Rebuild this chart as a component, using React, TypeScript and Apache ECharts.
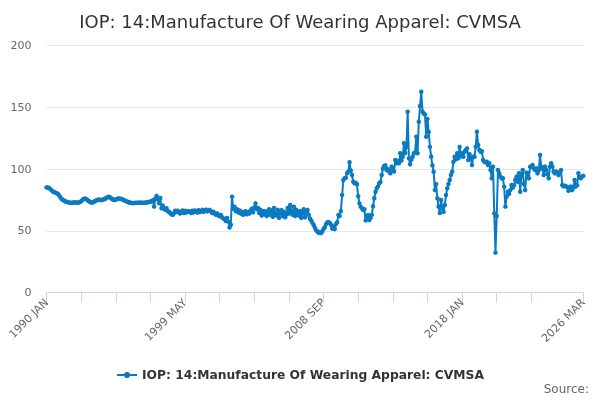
import React, { useEffect, useRef } from "react";
import * as echarts from "echarts";

const TITLE = "IOP: 14:Manufacture Of Wearing Apparel: CVMSA";
const SERIES_NAME = "IOP: 14:Manufacture Of Wearing Apparel: CVMSA";
const MONTHS = ["JAN", "FEB", "MAR", "APR", "MAY", "JUN", "JUL", "AUG", "SEP", "OCT", "NOV", "DEC"];
const START_YEAR = 1990;

const v1990 = [85.2, 85.0, 84.8, 84.0, 83.0, 82.0, 81.5, 81.0, 80.6, 80.0, 79.0, 77.5];
const v1991 = [76.0, 75.2, 74.6, 74.0, 73.6, 73.3, 73.0, 72.8, 72.7, 72.8, 73.0, 73.2];
const v1992 = [73.0, 72.8, 72.9, 73.3, 74.0, 75.0, 75.8, 76.2, 75.8, 75.0, 74.2, 73.5];
const v1993 = [73.0, 73.0, 73.4, 74.0, 74.6, 75.0, 75.3, 75.2, 75.0, 75.1, 75.4, 75.8];
const v1994 = [76.4, 77.0, 77.6, 77.4, 76.6, 75.8, 75.2, 75.0, 75.3, 75.8, 76.2, 76.0];
const v1995 = [76.0, 75.6, 75.2, 74.8, 74.2, 73.8, 73.4, 73.0, 72.8, 72.6, 72.5, 72.6];
const v1996 = [72.7, 72.8, 72.7, 72.8, 72.9, 72.8, 72.7, 72.8, 72.9, 73.0, 73.2, 73.6];
const v1997 = [73.5, 74.0, 74.8, 69.6, 76.0, 78.2, 75.5, 72.3, 76.6, 68.3, 70.5, 68.0];
const v1998 = [67.0, 68.3, 66.0, 65.5, 64.5, 63.4, 63.0, 64.2, 66.3, 65.5, 66.3, 64.8];
const v1999 = [64.0, 65.5, 66.5, 64.5, 66.2, 64.8, 66.0, 65.5, 65.7, 64.5, 66.3, 65.0];
const v2000 = [66.5, 65.5, 64.8, 66.8, 65.3, 66.0, 67.0, 65.5, 66.5, 67.2, 65.8, 66.4];
const v2001 = [67.0, 65.8, 64.5, 65.5, 64.0, 63.0, 64.2, 62.5, 61.8, 62.9, 61.0, 60.0];
const v2002 = [59.5, 58.0, 60.5, 57.5, 52.8, 55.0, 77.7, 68.0, 69.5, 66.0, 67.5, 65.0];
const v2003 = [66.5, 64.0, 65.5, 63.0, 64.8, 66.0, 63.5, 65.2, 64.0, 66.5, 68.0, 65.0];
const v2004 = [69.0, 72.3, 67.5, 68.5, 64.5, 67.0, 62.5, 66.0, 63.5, 65.8, 62.0, 64.5];
const v2005 = [67.5, 63.0, 66.5, 61.5, 68.5, 64.0, 62.5, 67.0, 60.5, 64.5, 66.8, 62.0];
const v2006 = [65.5, 61.0, 63.5, 68.5, 64.0, 71.0, 66.0, 63.0, 69.5, 62.0, 67.0, 64.5];
const v2007 = [62.5, 66.0, 60.5, 64.0, 67.5, 61.0, 65.5, 67.0, 63.0, 60.0, 58.5, 56.5];
const v2008 = [54.8, 52.5, 50.5, 49.5, 48.5, 48.8, 48.2, 49.5, 51.5, 53.0, 55.5, 56.8];
const v2009 = [57.0, 56.5, 55.0, 52.0, 53.5, 51.5, 55.5, 57.0, 62.9, 62.0, 66.0, 79.0];
const v2010 = [91.2, 92.6, 93.0, 96.6, 97.9, 105.5, 99.0, 95.2, 89.8, 88.5, 89.0, 87.7];
const v2011 = [78.0, 72.3, 69.6, 68.3, 67.0, 67.5, 58.5, 61.0, 62.9, 58.8, 60.5, 63.0];
const v2012 = [70.0, 76.4, 81.7, 84.5, 86.0, 88.5, 89.5, 95.2, 100.5, 102.5, 103.0, 99.3];
const v2013 = [100.0, 98.0, 96.6, 102.0, 100.6, 98.0, 107.4, 104.7, 106.5, 104.7, 112.8, 107.0];
const v2014 = [110.0, 120.9, 113.0, 118.0, 146.4, 108.7, 103.9, 107.5, 110.0, 112.8, 113.5, 126.2];
const v2015 = [112.8, 138.3, 151.0, 162.6, 146.5, 145.0, 144.2, 126.2, 140.5, 130.0, 118.0, 110.0];
const v2016 = [103.0, 97.9, 83.0, 88.0, 76.4, 69.6, 64.5, 75.0, 68.3, 65.5, 71.0, 79.0];
const v2017 = [84.5, 88.0, 91.2, 95.2, 97.9, 106.0, 110.0, 108.0, 112.8, 108.7, 118.0, 110.6];
const v2018 = [112.8, 110.0, 114.0, 115.5, 116.8, 107.4, 112.0, 109.5, 103.3, 110.0, 110.0, 118.0];
const v2019 = [130.3, 119.5, 115.5, 114.0, 114.5, 107.4, 106.0, 105.5, 106.0, 103.3, 104.7, 99.3];
const v2020 = [92.6, 102.0, 64.2, 32.4, 62.0, 99.3, 96.6, 93.9, 92.6, 92.6, 85.8, 69.6];
const v2021 = [77.7, 81.7, 80.0, 83.0, 87.1, 85.0, 87.0, 91.2, 93.9, 89.8, 96.6, 81.7];
const v2022 = [95.2, 99.3, 88.0, 83.0, 97.0, 96.6, 92.6, 102.0, 102.0, 103.3, 100.5, 99.3];
const v2023 = [100.6, 96.6, 99.0, 111.4, 102.0, 100.5, 95.2, 102.0, 99.3, 96.0, 92.6, 102.0];
const v2024 = [104.7, 102.0, 98.0, 96.6, 98.0, 97.0, 95.2, 97.5, 99.3, 87.1, 86.0, 86.5];
const v2025 = [86.0, 85.5, 82.5, 83.5, 86.0, 83.0, 85.0, 91.2, 86.0, 87.0, 96.6, 93.0];
const v2026 = [92.6, 94.0, 94.5];

const VALUES: number[] = [
  ...v1990, ...v1991, ...v1992, ...v1993, ...v1994, ...v1995, ...v1996, ...v1997,
  ...v1998, ...v1999, ...v2000, ...v2001, ...v2002, ...v2003, ...v2004, ...v2005,
  ...v2006, ...v2007, ...v2008, ...v2009, ...v2010, ...v2011, ...v2012, ...v2013,
  ...v2014, ...v2015, ...v2016, ...v2017, ...v2018, ...v2019, ...v2020, ...v2021,
  ...v2022, ...v2023, ...v2024, ...v2025, ...v2026,
];

const CATEGORIES: string[] = VALUES.map((_, i) => `${START_YEAR + Math.floor(i / 12)} ${MONTHS[i % 12]}`);

const LABEL_STEP = 112;
const TICK_STEP = 28;
const LAST_TICK_INDEX = 392;

const COLOR = "#0a7bc2";

export default function App() {
  const ref = useRef<HTMLDivElement>(null);
  useEffect(() => {
    if (!ref.current) return;
    const chart = echarts.init(ref.current, null, { renderer: "svg" });
    const last = VALUES.length - 1;
    chart.setOption({
      animation: false,
      textStyle: { fontFamily: "DejaVu Sans" },
      title: {
        text: TITLE,
        left: "center",
        top: 7,
        textStyle: { fontSize: 18, fontWeight: "normal", color: "#333333", fontFamily: "DejaVu Sans" },
      },
      grid: { left: 46.5, right: 16.7, top: 45.5, bottom: 107.3, containLabel: false },
      xAxis: {
        type: "category",
        data: CATEGORIES,
        boundaryGap: false,
        axisLine: { lineStyle: { color: "#ccd6eb", width: 1 } },
        axisTick: {
          length: 10,
          lineStyle: { color: "#ccd6eb" },
          interval: (i: number) => (i % TICK_STEP === 0 && i <= LAST_TICK_INDEX) || i === last,
        },
        axisLabel: {
          rotate: 45,
          color: "#666666",
          fontSize: 11,
          margin: 8,
          interval: (i: number) => i % LABEL_STEP === 0 || i === last,
        },
        splitLine: { show: false },
      },
      yAxis: {
        type: "value",
        min: 0,
        max: 200,
        interval: 50,
        axisLine: { show: false },
        axisTick: { show: false },
        axisLabel: { color: "#666666", fontSize: 11, margin: 15 },
        splitLine: { lineStyle: { color: "#e6e6e6", width: 1 } },
      },
      legend: {
        left: "center",
        top: 364,
        itemWidth: 20,
        itemHeight: 8,
        textStyle: { fontSize: 12.3, fontWeight: "bold", color: "#333333" },
        data: [SERIES_NAME],
      },
      series: [
        {
          name: SERIES_NAME,
          type: "line",
          data: VALUES,
          color: COLOR,
          symbol: "circle",
          symbolSize: 4.5,
          showSymbol: true,
          showAllSymbol: true,
          lineStyle: { width: 2, color: COLOR },
          itemStyle: { color: COLOR },
        },
      ],
      graphic: [
        {
          type: "text",
          right: 11,
          top: 383,
          style: { text: "Source:", fill: "#666666", fontSize: 12, fontFamily: "DejaVu Sans" },
        },
      ],
    });
    return () => chart.dispose();
  }, []);
  return <div ref={ref} style={{ position: "fixed", left: 0, top: 0, width: 600, height: 400 }} />;
}
